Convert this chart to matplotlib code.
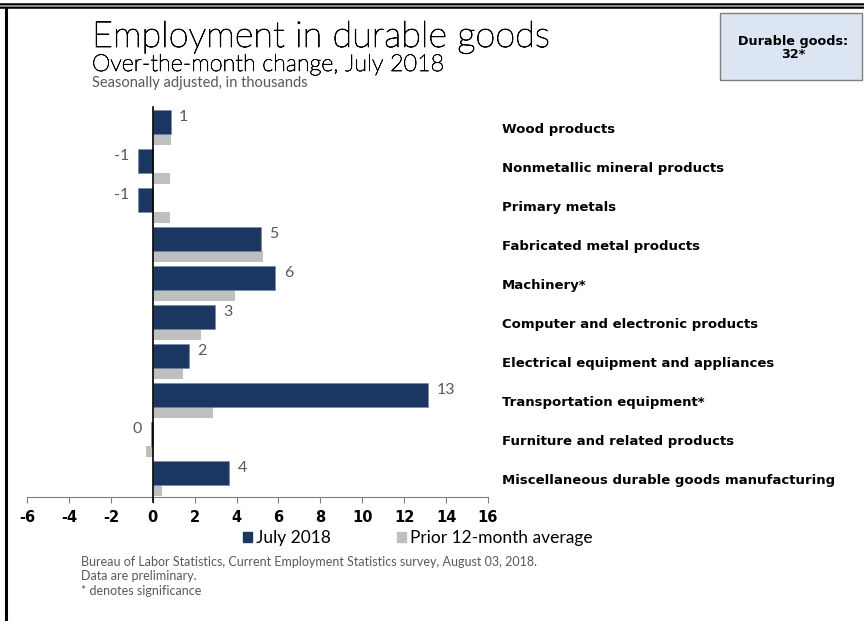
import matplotlib
matplotlib.use("Agg")
import matplotlib.pyplot as plt
import matplotlib.patches as mp
import matplotlib.patheffects as pe
from matplotlib.lines import Line2D

# data (thousands, seasonally adjusted)
categorias = [
    "Wood products",
    "Nonmetallic mineral products",
    "Primary metals",
    "Fabricated metal products",
    "Machinery*",
    "Computer and electronic products",
    "Electrical equipment and appliances",
    "Transportation equipment*",
    "Furniture and related products",
    "Miscellaneous durable goods manufacturing",
]
julho_2018 = [0.86, -0.72, -0.72, 5.16, 5.85, 2.96, 1.74, 13.13, -0.1, 3.65]
media_12m = [0.88, 0.81, 0.81, 5.25, 3.92, 2.3, 1.43, 2.87, -0.31, 0.45]
xticks = list(range(-6, 17, 2))
total_duraveis = "32*"

AZUL = "#1b3660"
CINZA = "#bfbfbf"
TEXTO = "#595959"
LEVE = "Lato"

W, H = 864, 621
fig = plt.figure(figsize=(W / 100, H / 100), dpi=100, facecolor="white")


def fx(px):
    return px / W


def fy(py):
    return 1 - py / H


ax = fig.add_axes([fx(27), fy(497), fx(488) - fx(27), fy(107) - fy(497)])

n = len(categorias)
pos = list(range(n))
ax.barh([p - 0.115 for p in pos], julho_2018, height=0.615, color=AZUL,
        edgecolor="#6f87a8", linewidth=0.4, zorder=3)
ax.barh([p + 0.33 for p in pos], media_12m, height=0.28, color=CINZA,
        linewidth=0, zorder=2)

for p, v in zip(pos, julho_2018):
    rot = f"{round(v):d}"
    if rot == "-0":
        rot = "0"
    lado = 6 if v >= 0 else -6
    ax.annotate(rot, (v, p - 0.24), xytext=(lado, 0), textcoords="offset points",
                ha="left" if v >= 0 else "right", va="center", fontsize=11.5,
                color=TEXTO, family=LEVE)

for p, nome in zip(pos, categorias):
    ax.text(1.0304, p + 0.08, nome, transform=ax.get_yaxis_transform(), ha="left",
            va="center", fontsize=9.5, fontweight="bold", color="black")

ax.set_xlim(-6, 16)
ax.set_ylim(n - 0.5, -0.5)
ax.axvline(0, color="black", linewidth=1.2, zorder=4, ymin=-0.013, clip_on=False)
for s in ["top", "right", "left"]:
    ax.spines[s].set_visible(False)
ax.spines["bottom"].set_color("#808080")
ax.set_yticks([])
ax.set_xticks(xticks)
ax.set_xticklabels([str(t) for t in xticks], fontsize=10.5, fontweight="bold")
ax.tick_params(axis="x", direction="out", length=4, color="#808080", pad=5)

# legenda
h1 = mp.Patch(facecolor=AZUL, edgecolor=AZUL)
h2 = mp.Patch(facecolor=CINZA, edgecolor=CINZA)
fig.legend([h1, h2], ["July 2018", "Prior 12-month average"], loc="center",
           bbox_to_anchor=(fx(418), fy(538)), ncol=2, frameon=False,
           handlelength=0.5, handleheight=0.5, handletextpad=0.25,
           columnspacing=3.8, prop={"family": LEVE, "size": 12.5})

# titulos (leve, com contorno fino)
fig.text(fx(92), fy(47), "Employment in durable goods", fontsize=26,
         family=LEVE, fontweight="light", color="black", va="baseline",
         path_effects=[pe.withStroke(linewidth=0.6, foreground="black")])
fig.text(fx(92), fy(71), "Over-the-month change, July 2018", fontsize=16.8,
         family=LEVE, fontweight="light", color="black", va="baseline",
         path_effects=[pe.withStroke(linewidth=0.5, foreground="black")])
fig.text(fx(92), fy(87), "Seasonally adjusted, in thousands", fontsize=10.5,
         family=LEVE, color=TEXTO, va="baseline")

# rodape
notas = ["Bureau of Labor Statistics, Current Employment Statistics survey, August 03, 2018.",
         "Data are preliminary.",
         "* denotes significance"]
for i, t in enumerate(notas):
    fig.text(fx(81), fy(562 + i * 14.5), t, fontsize=9, family=LEVE,
             color=TEXTO, va="center")

# caixa do total
fig.add_artist(mp.Rectangle((fx(720), fy(80)), fx(862) - fx(720), fy(13) - fy(80),
                            transform=fig.transFigure, facecolor="#dce6f2",
                            edgecolor="#7f7f7f", linewidth=1))
fig.text(fx(793), fy(48), f"Durable goods:\n{total_duraveis}", ha="center",
         va="center", fontsize=9.2, fontweight="bold", linespacing=1.1)

# moldura
fig.add_artist(Line2D([0, 1], [fy(5.5), fy(5.5)], transform=fig.transFigure,
                      color="black", linewidth=4))
fig.add_artist(Line2D([0, 1], [fy(5.5), fy(5.5)], transform=fig.transFigure,
                      color="#999999", linewidth=1.3))
fig.add_artist(Line2D([fx(6), fx(6)], [0, fy(8)], transform=fig.transFigure,
                      color="black", linewidth=2.2))

fig.savefig("out.png", dpi=100, facecolor="white")
